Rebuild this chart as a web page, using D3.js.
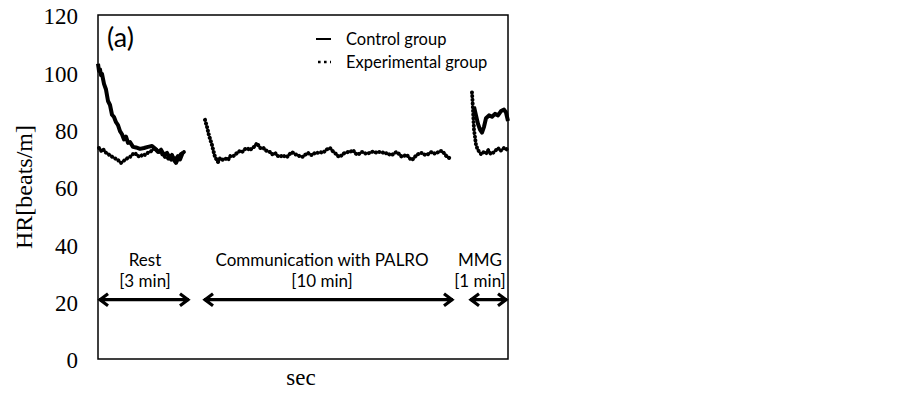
<!DOCTYPE html>
<html>
<head>
<meta charset="utf-8">
<script src="https://cdn.jsdelivr.net/npm/d3@7"></script>
<style>
  html, body { margin: 0; padding: 0; background: #fff; }
  svg { display: block; }
</style>
</head>
<body>
<div id="chart"></div>
<script>
// ── data (x = time index along the recording, y = HR) ─────────────────
const yTicks = [0, 20, 40, 60, 80, 100, 120];

const restX       = [0, 2, 4, 6, 8, 12, 16, 20, 24, 28, 32, 36, 40, 44, 48, 52, 56, 60, 64, 70, 76, 84, 92, 100, 108, 114, 120, 126, 132, 138, 144, 148, 152, 156, 160, 164, 170];
const restControl = [103, 100.5, 101, 99, 99.5, 96, 94, 90, 88.6, 85.2, 84.4, 82.6, 81.6, 79.5, 78.4, 76.6, 77.6, 75.4, 75.7, 74, 73.8, 73.3, 73.6, 74, 74.3, 73.4, 72.2, 73, 71.2, 71.9, 70, 71.2, 69.4, 68.4, 70, 69.6, 72.2];

const restExpX = [2, 6, 10, 14, 20, 26, 34, 40, 46, 50, 54, 60, 64, 70, 74, 78, 84, 90, 94, 100, 104, 110, 114, 118, 124, 130, 134, 140, 144, 150, 154, 160, 164, 168, 172];
const restExp  = [73.6, 72.6, 73.3, 72.2, 71.5, 70.8, 70, 69.4, 68.4, 69, 69.4, 70.2, 70.5, 71.5, 71.9, 71, 70.5, 71.4, 71.2, 72, 72.2, 73, 73.6, 72.8, 72.2, 71.2, 70.5, 70, 69.4, 69.8, 70, 70.8, 71.2, 71.8, 72.2];

const commX   = [214, 218, 222, 228, 234, 240, 244, 248, 254, 260, 264, 268, 274, 278, 284, 288, 294, 298, 304, 308, 314, 318, 324, 330, 334, 340, 344, 348, 354, 358, 364, 370, 374, 378, 384, 388, 394, 400, 404, 410, 414, 420, 424, 430, 434, 440, 444, 450, 456, 464, 470, 474, 480, 484, 490, 494, 500, 504, 510, 514, 520, 526, 530, 536, 544, 550, 558, 562, 568, 574, 578, 584, 588, 594, 598, 604, 608, 614, 618, 622, 628, 634, 638, 644, 648, 654, 658, 664, 668, 674, 678, 684, 688, 694, 698, 704];
const commExp = [83.4, 81, 78, 74.6, 70.5, 68.7, 70, 69.4, 70, 69.4, 70.8, 70.5, 71.2, 71.9, 72.6, 72.2, 73.2, 73.6, 72.8, 73.6, 74.2, 75.3, 73.6, 73.8, 72.9, 72.4, 72.2, 71.4, 71.9, 71, 70.5, 71.2, 70.5, 70.5, 71.6, 72.2, 71.4, 71.2, 70.6, 70.5, 71.2, 71.9, 71.2, 71.2, 72, 71.9, 72.2, 71.9, 73, 73.6, 72.4, 71.9, 70.8, 70.5, 71.6, 71.9, 72.2, 72.2, 72.9, 71.8, 71.2, 72.2, 72.2, 71.6, 71.9, 72.4, 71.9, 72.2, 72.2, 71.6, 71.9, 71.2, 71.2, 72, 72.2, 71.2, 70.5, 71, 71.2, 70.2, 69.4, 70.6, 71.2, 71.9, 71.9, 71.2, 71.2, 72, 72.2, 71.6, 71.9, 72.6, 72.6, 71.4, 70.5, 70];

const mmgExpX = [748, 749, 750, 751, 752, 754, 756, 760, 766, 770, 776, 780, 786, 790, 796, 800, 804, 808, 812, 816, 820];
const mmgExp  = [93, 90.4, 86.9, 83.4, 80, 77.4, 74.6, 72.9, 71.5, 72.2, 71.6, 72.9, 71.5, 71.9, 72.9, 73.6, 72.6, 72.9, 73.6, 73, 73.6];

const mmgCtrlX   = [752, 756, 760, 764, 768, 772, 776, 782, 788, 794, 800, 806, 812, 816, 820];
const mmgControl = [88, 85, 82, 80, 79, 81, 84, 85, 84.5, 85.5, 85, 86.5, 87, 86, 83];

const phases    = ["Rest", "Communication with PALRO", "MMG"];
const durations = ["[3 min]", "[10 min]", "[1 min]"];
const phaseFrom = [2, 212, 744];
const phaseTo   = [182, 710, 818];
const labelAt   = [94, 448, 764];
const arrowHR   = 20.7;

// ── layout ─────────────────────────────────────────────────────────────
const W = 903, H = 393;
const margin = { top: 15, right: 395, bottom: 34, left: 98 };
const w = W - margin.left - margin.right;
const h = H - margin.top - margin.bottom;

const svg = d3.select("#chart").append("svg")
  .attr("width", W).attr("height", H);

const g = svg.append("g").attr("transform", `translate(${margin.left},${margin.top})`);

const x = d3.scaleLinear().domain([0, 820]).range([0, w]);
const y = d3.scaleLinear().domain([0, 120]).range([h, 0]);

const serif = "'Liberation Serif', 'Times New Roman', serif";
const sans = "Lato, 'Open Sans', sans-serif";

// y axis labels (no tick marks)
const yAxis = g.append("g")
  .call(d3.axisLeft(y).tickValues(yTicks).tickSize(0).tickPadding(20));
yAxis.select(".domain").remove();
yAxis.selectAll("text")
  .style("font-family", serif).style("font-size", "23px").attr("fill", "#000")
  .attr("dy", "0.38em");

// frame
g.append("rect")
  .attr("x", 0).attr("y", 0).attr("width", w).attr("height", h)
  .attr("fill", "none").attr("stroke", "#000").attr("stroke-width", 1.5);

// axis titles
svg.append("text")
  .attr("transform", `translate(32,${margin.top + h / 2}) rotate(-90)`)
  .attr("text-anchor", "middle")
  .attr("font-family", serif).attr("font-size", 24)
  .text("HR[beats/m]");

svg.append("text")
  .attr("x", margin.left + w / 2 - 2).attr("y", 385)
  .attr("text-anchor", "middle")
  .attr("font-family", serif).attr("font-size", 23)
  .text("sec");

// ── series ─────────────────────────────────────────────────────────────
const line = d3.line().x(d => x(d[0])).y(d => y(d[1]));
const pairs = (xs, ys) => xs.map((v, i) => [v, ys[i]]);

function solid(xs, ys) {
  g.append("path").datum(pairs(xs, ys))
    .attr("d", line).attr("fill", "none")
    .attr("stroke", "#000").attr("stroke-width", 4)
    .attr("stroke-linejoin", "round");
}
function dotted(xs, ys) {
  g.append("path").datum(pairs(xs, ys))
    .attr("d", line).attr("fill", "none")
    .attr("stroke", "#000").attr("stroke-width", 4)
    .attr("stroke-linecap", "round")
    .attr("stroke-dasharray", "0.1 3.6");
}

dotted(restExpX, restExp);
solid(restX, restControl);
dotted(commX, commExp);
dotted(mmgExpX, mmgExp);
solid(mmgCtrlX, mmgControl);

// ── phase arrows and labels ───────────────────────────────────────────
phases.forEach((p, i) => {
  const x0 = x(phaseFrom[i]), x1 = x(phaseTo[i]), yy = y(arrowHR);
  const cx = x(labelAt[i]);
  const hl = 9, hw = 6;
  g.append("path")
    .attr("d", `M${x0},${yy}H${x1}` +
      `M${x0 + hl},${yy - hw}L${x0 + 1},${yy}L${x0 + hl},${yy + hw}` +
      `M${x1 - hl},${yy - hw}L${x1 - 1},${yy}L${x1 - hl},${yy + hw}`)
    .attr("fill", "none").attr("stroke", "#000")
    .attr("stroke-width", 3.2).attr("stroke-linejoin", "miter");
  g.append("text")
    .attr("x", cx).attr("y", 266 - margin.top)
    .attr("text-anchor", "middle")
    .attr("font-family", sans).attr("font-size", 17)
    .text(p);
  g.append("text")
    .attr("x", cx).attr("y", 287 - margin.top)
    .attr("text-anchor", "middle")
    .attr("font-family", sans).attr("font-size", 17)
    .text(durations[i]);
});

// panel tag
svg.append("text")
  .attr("x", 107).attr("y", 47)
  .attr("font-family", sans).attr("font-size", 27)
  .text("(a)");

// legend
svg.append("line")
  .attr("x1", 316).attr("x2", 331).attr("y1", 39).attr("y2", 39)
  .attr("stroke", "#000").attr("stroke-width", 2);
svg.append("line")
  .attr("x1", 318).attr("x2", 331).attr("y1", 62).attr("y2", 62)
  .attr("stroke", "#000").attr("stroke-width", 2.6)
  .attr("stroke-dasharray", "2.6 3.4");
svg.append("text")
  .attr("x", 346).attr("y", 45)
  .attr("font-family", sans).attr("font-size", 16.5)
  .text("Control group");
svg.append("text")
  .attr("x", 346).attr("y", 68)
  .attr("font-family", sans).attr("font-size", 16.5)
  .text("Experimental group");
</script>
</body>
</html>
